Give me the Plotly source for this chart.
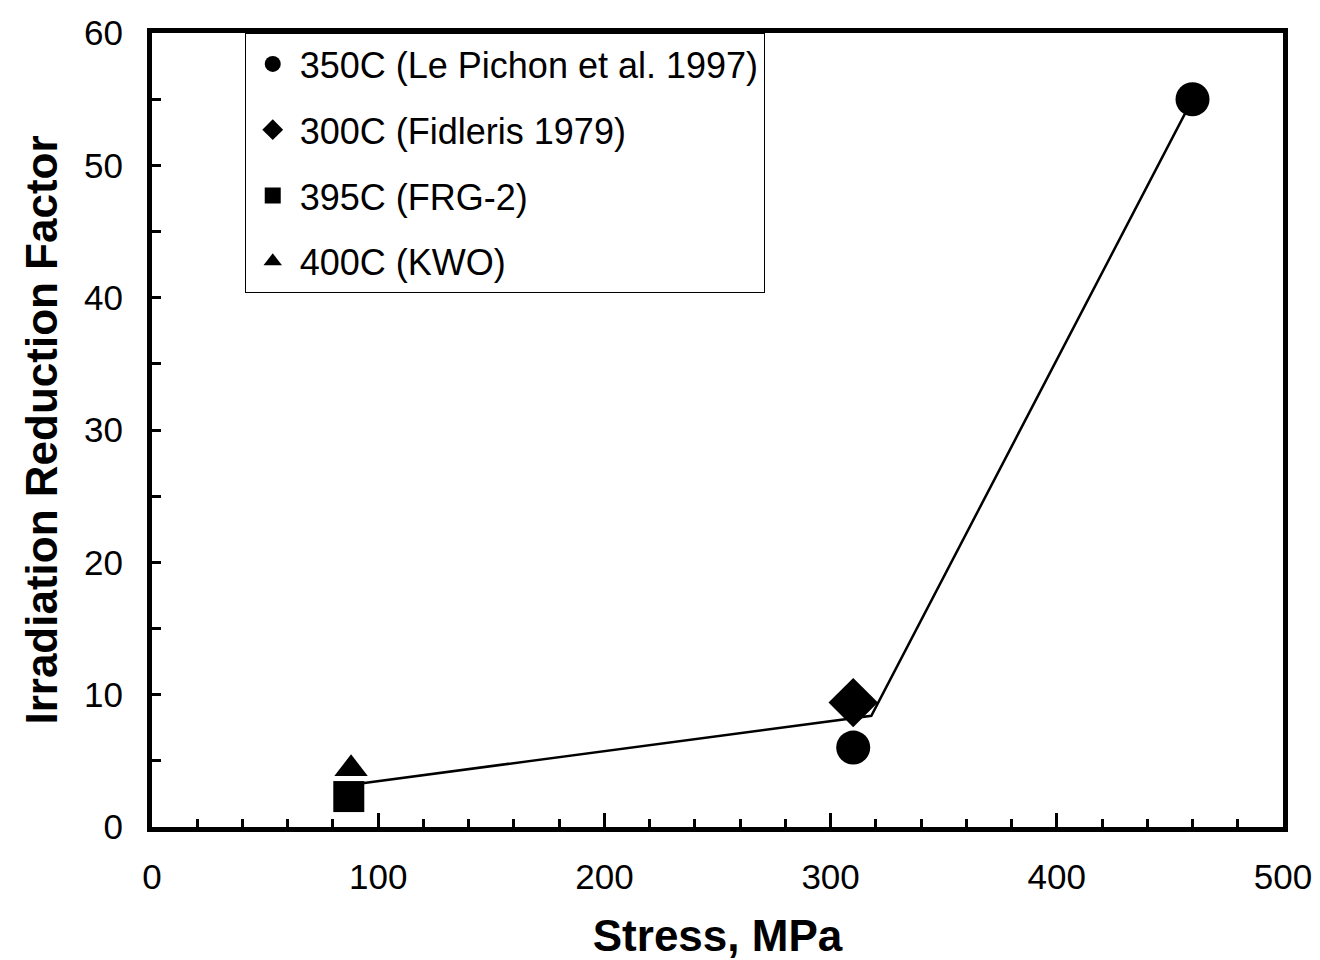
import plotly.graph_objects as go

# Irradiation reduction factor vs. applied stress, by data source
le_pichon_stress = [310, 460]
le_pichon_factor = [6.0, 55.0]

fidleris_stress = [310]
fidleris_factor = [9.4]

frg2_stress = [87]
frg2_factor = [2.3]

kwo_stress = [88]
kwo_factor = [4.4]

# Trend line through the data
trend_stress = [88, 318, 460]
trend_factor = [3.2, 8.4, 55.0]

FONT = "Liberation Sans, Arial, sans-serif"

fig = go.Figure()

fig.add_trace(go.Scatter(
    x=trend_stress, y=trend_factor, mode="lines",
    line=dict(color="black", width=2.5), showlegend=False, hoverinfo="skip",
))

series = [
    ("350C (Le Pichon et al. 1997)", le_pichon_stress, le_pichon_factor, "circle", 34),
    ("300C (Fidleris 1979)", fidleris_stress, fidleris_factor, "diamond", 38),
    ("395C (FRG-2)", frg2_stress, frg2_factor, "square", 31),
    ("400C (KWO)", kwo_stress, kwo_factor, "triangle-up", 29),
]
for i, (name, xs, ys, sym, size) in enumerate(series):
    fig.add_trace(go.Scatter(
        x=xs, y=ys, mode="markers", name=name, legendgroup=f"g{i}",
        marker=dict(symbol=sym, size=size, color="black", line=dict(width=0)),
    ))

fig.update_layout(
    width=1320, height=960,
    margin=dict(l=152, r=37, t=33, b=133),
    paper_bgcolor="white", plot_bgcolor="white",
    font=dict(family=FONT, color="black", size=34),
    showlegend=True,
    legend=dict(
        x=0.082, y=1.0, xanchor="left", yanchor="top",
        bordercolor="black", borderwidth=1, bgcolor="white",
        font=dict(family=FONT, size=36, color="black"),
        tracegroupgap=16, itemsizing="trace", itemwidth=44,
    ),
    xaxis=dict(
        range=[0, 500], dtick=100, tick0=0, automargin=False,
        showgrid=False, zeroline=False,
        showline=True, linewidth=5, linecolor="black", mirror=True,
        ticks="inside", ticklen=14, tickwidth=3, tickcolor="black",
        minor=dict(dtick=20, ticks="inside", ticklen=8, tickwidth=3, tickcolor="black"),
        tickfont=dict(family=FONT, size=35),
        ticklabelstandoff=15,
        title=dict(text="<b>Stress, MPa</b>", font=dict(family=FONT, size=44), standoff=30),
    ),
    yaxis=dict(
        range=[0, 60], dtick=10, tick0=0, automargin=False,
        showgrid=False, zeroline=False,
        showline=True, linewidth=5, linecolor="black", mirror=True,
        ticks="inside", ticklen=9, tickwidth=3, tickcolor="black",
        minor=dict(dtick=5, ticks="inside", ticklen=9, tickwidth=3, tickcolor="black"),
        tickfont=dict(family=FONT, size=35),
        ticklabelstandoff=17,
        title=dict(text="<b>Irradiation Reduction Factor</b>", font=dict(family=FONT, size=44), standoff=14),
    ),
)

fig.write_html("out.html")
